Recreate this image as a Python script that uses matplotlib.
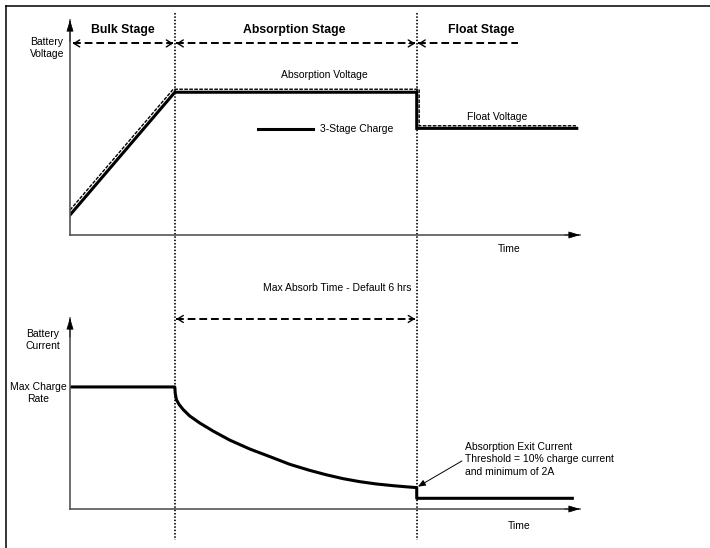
import matplotlib
matplotlib.use('Agg')
import matplotlib.pyplot as plt
from matplotlib import transforms

plt.rcParams['font.family'] = ['Liberation Sans', 'DejaVu Sans']

# stage boundaries (hours); absorption lasts the default 6 hrs
t_bulk_end = 2.6
t_abs_end = 8.6
t_axis_end = 12.65

# top panel: battery voltage (relative units)
volt_t = [0, 2.6, 8.6, 8.6, 12.57]
volt = [9.3, 66.4, 66.4, 49.6, 49.6]
setpoint_t = [0, 2.56, 8.66, 8.66, 12.55]
setpoint = [11.6, 67.8, 67.8, 50.8, 50.8]

# bottom panel: battery current (relative units)
curr_t = [0, 2.6, 2.61, 2.64, 2.71, 2.81, 2.97, 3.22, 3.55, 3.96, 4.46, 4.96, 5.45,
          5.95, 6.36, 6.77, 7.19, 7.6, 8.02, 8.35, 8.6, 8.6, 12.46]
curr = [63.9, 63.9, 60.6, 57.2, 54.6, 52.0, 48.7, 45.0, 40.8, 36.1, 31.4, 27.4, 23.4,
        20.2, 17.9, 15.9, 14.3, 13.1, 12.2, 11.6, 11.2, 5.6, 5.6]

stage_names = ['Bulk Stage', 'Absorption Stage', 'Float Stage']
stage_label_t = [1.32, 5.55, 10.19]

W, H = 710, 548
fig = plt.figure(figsize=(7.1, 5.48), dpi=100)

# overlay in pixel units for the frame and the stage dividers
ov = fig.add_axes([0, 0, 1, 1])
ov.set_xlim(0, W)
ov.set_ylim(H, 0)
ov.axis('off')
ov.plot([6, 6], [6, H], color='k', lw=1.1)
ov.plot([6, W], [6, 6], color='k', lw=1.1)

top = fig.add_axes([70 / W, 1 - 235 / H, 510 / W, 215 / H])
bot = fig.add_axes([70 / W, 1 - 509 / H, 510 / W, 191 / H])

for ax in (top, bot):
    ax.set_xlim(0, t_axis_end)
    ax.set_ylim(0, 100)
    ax.patch.set_alpha(0)
    ax.spines['top'].set_visible(False)
    ax.spines['right'].set_visible(False)
    for s in ('left', 'bottom'):
        ax.spines[s].set_color('#555555')
        ax.spines[s].set_linewidth(1.2)
    ax.set_xticks([])
    ax.set_yticks([])
    head = dict(arrowstyle='-|>,head_length=0.72,head_width=0.22', color='k',
                lw=0.5, shrinkA=0, shrinkB=0)
    ax.annotate('', xy=(1, 0), xytext=(0.97, 0), xycoords='axes fraction', arrowprops=head)
    ax.annotate('', xy=(0, 1), xytext=(0, 0.9), xycoords='axes fraction', arrowprops=head)

# dotted stage dividers, x in data units, y in pixels
bt = transforms.blended_transform_factory(top.transData, ov.transData)
for t in (t_bulk_end, t_abs_end):
    ov.plot([t, t], [13, 540], transform=bt, color='k', lw=1.2, dashes=(0.9, 1.1))


def dashed_arrow(ax, x0, x1, y, left=True, right=True):
    ax.plot([x0, x1], [y, y], color='k', lw=1.4, dashes=(4, 2))
    hs = dict(arrowstyle='->,head_length=0.4,head_width=0.25', color='k', lw=1.0,
              shrinkA=0, shrinkB=0)
    if left:
        ax.annotate('', xy=(x0, y), xytext=(x0 + 0.15, y), arrowprops=hs)
    if right:
        ax.annotate('', xy=(x1, y), xytext=(x1 - 0.15, y), arrowprops=hs)


fs = 7.5

# top panel
top.plot(setpoint_t, setpoint, color='k', lw=1.0, dashes=(2.6, 1.0))
top.plot(volt_t, volt, color='k', lw=2.2, solid_joinstyle='miter')
for name, t in zip(stage_names, stage_label_t):
    top.text(t, 95.5, name, fontsize=8.8, fontweight='bold', ha='center', va='center')
dashed_arrow(top, 0.07, t_bulk_end - 0.04, 89.1)
dashed_arrow(top, t_bulk_end + 0.04, t_abs_end - 0.04, 89.1)
dashed_arrow(top, t_abs_end + 0.04, 11.11, 89.1, right=False)
top.text(-0.57, 86.9, 'Battery\nVoltage', fontsize=fs, ha='center', va='center', linespacing=1.3)
top.text(6.31, 74.4, 'Absorption Voltage', fontsize=fs, ha='center', va='center')
top.plot([4.66, 6.02], [49.1, 49.1], color='k', lw=2.2)
top.text(6.2, 49.1, '3-Stage Charge', fontsize=fs, ha='left', va='center')
top.text(10.6, 55.0, 'Float Voltage', fontsize=fs, ha='center', va='center')
top.text(10.89, -6.5, 'Time', fontsize=fs, ha='center', va='center')

# bottom panel
bot.plot(curr_t, curr, color='k', lw=2.2, solid_joinstyle='round')
bot.text(6.62, 115.5, 'Max Absorb Time - Default 6 hrs', fontsize=fs, ha='center', va='center')
dashed_arrow(bot, t_bulk_end + 0.04, t_abs_end - 0.04, 99.5)
bot.text(-0.67, 88.6, 'Battery\nCurrent', fontsize=fs, ha='center', va='center', linespacing=1.3)
bot.text(-0.79, 60.7, 'Max Charge\nRate', fontsize=fs, ha='center', va='center', linespacing=1.3)
bot.annotate('Absorption Exit Current\nThreshold = 10% charge current\nand minimum of 2A',
             xy=(8.63, 11.7), xytext=(9.79, 26.0), fontsize=fs, ha='left', va='center',
             linespacing=1.35,
             arrowprops=dict(arrowstyle='-|>,head_length=0.6,head_width=0.25', color='k',
                             lw=0.7, shrinkA=0, shrinkB=0,
                             relpos=(0, 0.5)))
bot.text(11.13, -8.9, 'Time', fontsize=fs, ha='center', va='center')

fig.savefig('out.png', dpi=100)
